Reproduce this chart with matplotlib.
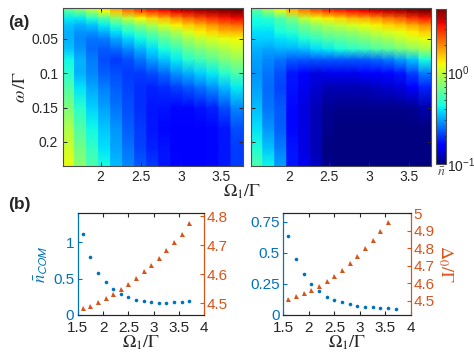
import numpy as np
import matplotlib
matplotlib.use('Agg')
import matplotlib.pyplot as plt
from matplotlib.colors import LogNorm
from matplotlib.ticker import LogLocator

plt.rcParams['font.family'] = ['Liberation Sans', 'DejaVu Sans']
plt.rcParams['mathtext.fontset'] = 'stix'

BLUE = '#0072BD'
ORANGE = '#D95319'
DARK = '#262626'

# ---- data ----
omega1 = [1.6, 1.75, 1.9, 2.05, 2.2, 2.35, 2.5, 2.65, 2.8, 2.95, 3.1, 3.25, 3.4, 3.55, 3.7]
omega_rows = [0.005, 0.01, 0.02, 0.03, 0.04, 0.05, 0.065, 0.08, 0.1, 0.12, 0.15, 0.18, 0.21, 0.235]

# log10(n_bar), rows = omega_rows, columns = omega1
log_nbar_left = [
    [-0.20, -0.10, 0.02, 0.16, 0.28, 0.39, 0.46, 0.53, 0.58, 0.62, 0.65, 0.67, 0.68, 0.70, 0.70],
    [-0.25, -0.18, -0.08, 0.07, 0.19, 0.31, 0.39, 0.45, 0.50, 0.55, 0.58, 0.62, 0.65, 0.67, 0.70],
    [-0.39, -0.39, -0.32, -0.24, -0.12, -0.01, 0.09, 0.16, 0.22, 0.29, 0.36, 0.41, 0.46, 0.50, 0.53],
    [-0.46, -0.49, -0.46, -0.39, -0.30, -0.22, -0.13, -0.05, 0.04, 0.11, 0.17, 0.22, 0.28, 0.33, 0.36],
    [-0.49, -0.54, -0.54, -0.49, -0.41, -0.34, -0.27, -0.20, -0.12, -0.05, 0.04, 0.11, 0.16, 0.21, 0.22],
    [-0.49, -0.56, -0.59, -0.58, -0.51, -0.44, -0.37, -0.30, -0.22, -0.15, -0.07, -0.01, 0.04, 0.07, 0.09],
    [-0.46, -0.54, -0.61, -0.64, -0.61, -0.56, -0.49, -0.42, -0.35, -0.29, -0.20, -0.15, -0.10, -0.05, 0.00],
    [-0.37, -0.49, -0.58, -0.66, -0.69, -0.66, -0.59, -0.52, -0.46, -0.39, -0.32, -0.27, -0.22, -0.15, -0.10],
    [-0.32, -0.49, -0.56, -0.63, -0.66, -0.69, -0.69, -0.66, -0.61, -0.54, -0.49, -0.44, -0.39, -0.32, -0.25],
    [-0.25, -0.41, -0.51, -0.58, -0.63, -0.68, -0.71, -0.73, -0.71, -0.68, -0.64, -0.59, -0.54, -0.47, -0.39],
    [-0.15, -0.32, -0.44, -0.52, -0.59, -0.66, -0.71, -0.75, -0.76, -0.78, -0.78, -0.76, -0.73, -0.66, -0.56],
    [-0.05, -0.24, -0.37, -0.46, -0.54, -0.63, -0.69, -0.75, -0.78, -0.80, -0.80, -0.80, -0.78, -0.75, -0.66],
    [0.02, -0.17, -0.30, -0.41, -0.51, -0.59, -0.68, -0.73, -0.76, -0.80, -0.80, -0.80, -0.78, -0.75, -0.69],
    [0.07, -0.12, -0.25, -0.35, -0.47, -0.56, -0.64, -0.69, -0.75, -0.78, -0.80, -0.80, -0.78, -0.75, -0.69],
]

log_nbar_right = [
    [-0.20, -0.05, 0.12, 0.26, 0.36, 0.45, 0.50, 0.53, 0.56, 0.58, 0.62, 0.63, 0.65, 0.68, 0.70],
    [-0.25, -0.12, 0.02, 0.19, 0.29, 0.36, 0.43, 0.46, 0.50, 0.53, 0.56, 0.60, 0.63, 0.67, 0.70],
    [-0.35, -0.32, -0.24, -0.15, -0.01, 0.07, 0.12, 0.16, 0.21, 0.24, 0.28, 0.33, 0.38, 0.45, 0.50],
    [-0.37, -0.37, -0.30, -0.25, -0.17, -0.10, -0.05, -0.01, 0.04, 0.07, 0.11, 0.16, 0.19, 0.24, 0.29],
    [-0.41, -0.41, -0.35, -0.32, -0.25, -0.20, -0.15, -0.13, -0.10, -0.05, 0.00, 0.04, 0.07, 0.12, 0.17],
    [-0.44, -0.44, -0.41, -0.39, -0.34, -0.29, -0.24, -0.22, -0.18, -0.15, -0.10, -0.07, -0.01, 0.04, 0.07],
    [-0.49, -0.51, -0.49, -0.49, -0.47, -0.42, -0.39, -0.35, -0.32, -0.29, -0.25, -0.22, -0.17, -0.12, -0.07],
    [-0.52, -0.56, -0.59, -0.63, -0.64, -0.64, -0.64, -0.64, -0.64, -0.63, -0.61, -0.58, -0.52, -0.46, -0.35],
    [-0.54, -0.59, -0.66, -0.75, -0.80, -0.85, -0.83, -0.83, -0.83, -0.81, -0.80, -0.78, -0.75, -0.68, -0.58],
    [-0.52, -0.61, -0.68, -0.76, -0.83, -0.88, -0.92, -0.92, -0.92, -0.92, -0.90, -0.88, -0.86, -0.81, -0.73],
    [-0.47, -0.59, -0.64, -0.78, -0.86, -0.92, -0.97, -0.98, -0.98, -0.98, -0.98, -0.98, -0.98, -0.97, -0.93],
    [-0.41, -0.54, -0.63, -0.78, -0.85, -0.92, -0.98, -1.05, -1.05, -1.05, -1.05, -1.05, -1.05, -1.05, -1.05],
    [-0.34, -0.46, -0.58, -0.76, -0.85, -0.92, -1.05, -1.05, -1.05, -1.05, -1.05, -1.05, -1.05, -1.05, -1.05],
    [-0.25, -0.37, -0.52, -0.75, -0.83, -0.90, -0.98, -1.05, -1.05, -1.05, -1.05, -1.05, -1.05, -1.05, -1.05],
]

ncom_left = [1.12, 0.796, 0.583, 0.449, 0.356, 0.287, 0.241, 0.208, 0.19, 0.176, 0.171, 0.171, 0.176, 0.181, 0.194]
delta_left = [4.483, 4.491, 4.504, 4.517, 4.533, 4.550, 4.566, 4.588, 4.610, 4.632, 4.656, 4.683, 4.712, 4.740, 4.777]

ncom_right = [0.634, 0.450, 0.329, 0.248, 0.191, 0.148, 0.121, 0.103, 0.086, 0.076, 0.067, 0.062, 0.057, 0.054, 0.051]
delta_right = [4.511, 4.525, 4.542, 4.561, 4.586, 4.615, 4.643, 4.676, 4.714, 4.756, 4.803, 4.847, 4.901, 4.952]

# ---- figure ----
W, H = 474, 360
fig = plt.figure(figsize=(W / 100, H / 100), dpi=100)


def px_axes(x0, y0, x1, y1):
    return fig.add_axes([x0 / W, 1 - y1 / H, (x1 - x0) / W, (y1 - y0) / H])


norm = LogNorm(vmin=0.1, vmax=5.0)
cmap = plt.get_cmap('jet')

# column edges (each column drawn with constant value horizontally)
xc = np.array(omega1)
dx = 0.15
Xv = np.repeat(xc, 2) + np.tile([-dx / 2, dx / 2], len(xc))
Yv = np.array(omega_rows)
Xg, Yg = np.meshgrid(Xv, Yv)


def heatmap(ax, logvals, ylabels):
    C = 10 ** np.repeat(np.array(logvals), 2, axis=1)
    m = ax.pcolormesh(Xg, Yg, C, shading='gouraud', cmap=cmap, norm=norm, rasterized=True)
    ax.set_xlim(1.525, 3.775)
    ax.set_ylim(0.235, 0.005)
    ax.set_xticks([2, 2.5, 3, 3.5])
    ax.set_xticklabels(['2', '2.5', '3', '3.5'])
    ax.set_yticks([0.05, 0.1, 0.15, 0.2])
    if ylabels:
        ax.set_yticklabels(['0.05', '0.1', '0.15', '0.2'])
    else:
        ax.set_yticklabels([])
    ax.tick_params(direction='in', top=True, right=True, length=3, width=0.7,
                   colors=DARK, labelsize=10, pad=3)
    for s in ax.spines.values():
        s.set_color('#4d4d4d')
        s.set_linewidth(0.8)
    return m


axA = px_axes(62.5, 8, 243, 166)
m = heatmap(axA, log_nbar_left, True)
axA.set_ylabel(r'$\omega\,/\Gamma$', fontsize=13, color=DARK, labelpad=2)

axB = px_axes(250.7, 8, 431, 166)
heatmap(axB, log_nbar_right, False)

fig.text(242 / W, 1 - 192 / H, r'$\Omega_1/\Gamma$', fontsize=13, color=DARK,
         ha='center', va='center')

cax = px_axes(436, 8.7, 446, 164)
cb = fig.colorbar(m, cax=cax)
cb.set_ticks([0.1, 1])
cb.ax.yaxis.set_minor_locator(LogLocator(base=10, subs=np.arange(2, 10)))
cb.ax.tick_params(which='both', direction='in', colors=DARK, labelsize=10, pad=1)
cb.ax.tick_params(which='major', length=3)
cb.ax.tick_params(which='minor', length=1.5)
cb.outline.set_edgecolor('#4d4d4d')
cb.outline.set_linewidth(0.8)
fig.text(441 / W, 1 - 172 / H, r'$\bar{n}$', fontsize=10, color='#555555',
         ha='center', va='center')

fig.text(8 / W, 1 - 22 / H, '(a)', fontsize=12.5, fontweight='bold', color=DARK,
         ha='left', va='center')
fig.text(8 / W, 1 - 205 / H, '(b)', fontsize=12.5, fontweight='bold', color=DARK,
         ha='left', va='center')


def lower(ax, ncom, delta, ylim_l, yticks_l, yticklabels_l, ylim_r, yticks_r):
    ax.plot(omega1, ncom, 'o', color=BLUE, markersize=2.6, markeredgewidth=0)
    ax.set_xlim(1.5, 4)
    ax.set_xticks([1.5, 2, 2.5, 3, 3.5, 4])
    ax.set_xticklabels(['1.5', '2', '2.5', '3', '3.5', '4'])
    ax.set_ylim(*ylim_l)
    ax.set_yticks(yticks_l)
    ax.set_yticklabels(yticklabels_l)
    ax.tick_params(axis='x', direction='in', top=True, length=3, colors=DARK, labelsize=11, pad=4)
    ax.tick_params(axis='y', direction='in', length=3, colors=BLUE, labelsize=11, pad=2.5)
    ax.set_xlabel(r'$\Omega_1/\Gamma$', fontsize=13, color=DARK, labelpad=-1)
    ax2 = ax.twinx()
    ax2.plot(omega1[:len(delta)], delta, '^', color=ORANGE, markersize=3.6, markeredgewidth=0)
    ax2.set_ylim(*ylim_r)
    ax2.set_yticks(yticks_r)
    ax2.set_yticklabels([f'{v:.1f}' if v != 5 else '5' for v in yticks_r])
    ax2.tick_params(axis='y', direction='in', length=3, colors=ORANGE, labelsize=11, pad=2)
    for a in (ax, ax2):
        a.spines['top'].set_color(DARK)
        a.spines['bottom'].set_color(DARK)
        a.spines['left'].set_color(BLUE)
        a.spines['right'].set_color(ORANGE)
        for s in a.spines.values():
            s.set_linewidth(0.8)
    return ax2


axC = px_axes(77.7, 213.3, 204.3, 315)
lower(axC, ncom_left, delta_left, (0, 1.4), [0, 0.5, 1], ['0', '0.5', '1'],
      (4.46, 4.81), [4.5, 4.6, 4.7, 4.8])
axC.set_ylabel(r'$\bar{n}_{\mathsf{COM}}$', fontsize=12, color=BLUE, labelpad=2)

axD = px_axes(283.3, 213.3, 411, 315)
axD2 = lower(axD, ncom_right, delta_right, (0, 0.82), [0, 0.25, 0.5, 0.75],
             ['0', '0.25', '0.5', '0.75'], (4.418, 5.0), [4.5, 4.6, 4.7, 4.8, 4.9, 5.0])
axD2.set_ylabel(r'$\Delta_0/\Gamma$', fontsize=13, color=ORANGE, rotation=270,
                labelpad=14)

fig.savefig('out.png', dpi=100)
